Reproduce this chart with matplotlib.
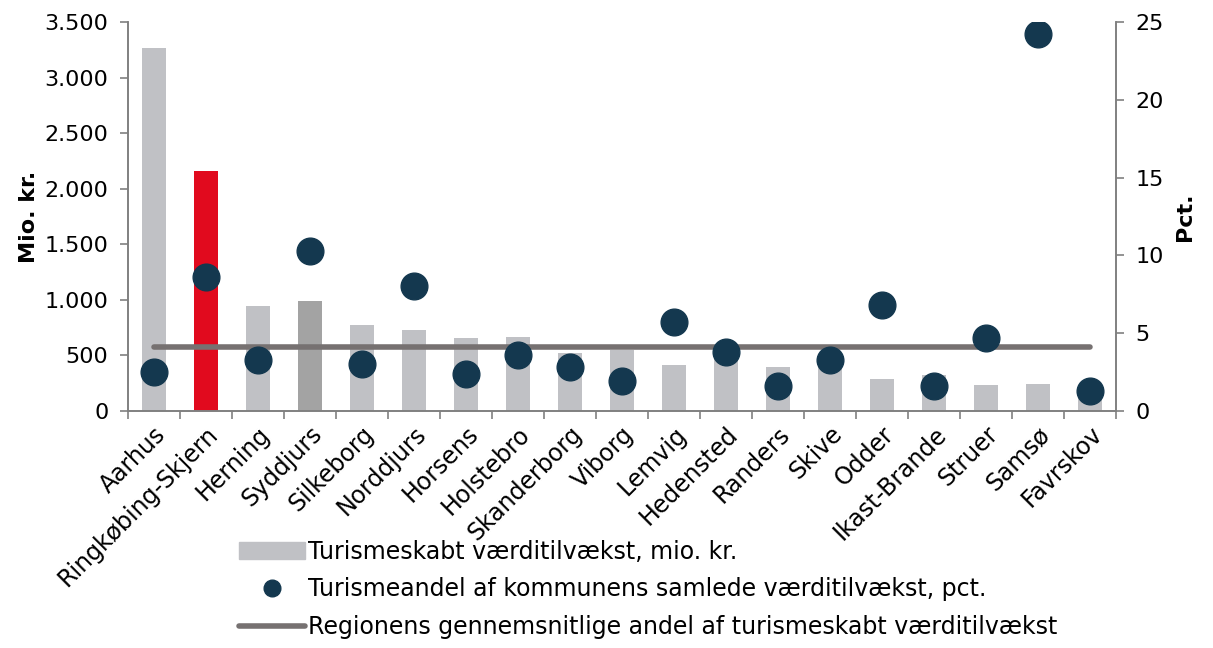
import numpy as np
import matplotlib.pyplot as plt
from matplotlib.ticker import FuncFormatter, FixedLocator
from matplotlib.lines import Line2D
from matplotlib.patches import Patch

plt.rcParams['font.family'] = ['DejaVu Sans']

kommuner = ["Aarhus", "Ringkøbing-Skjern", "Herning", "Syddjurs", "Silkeborg", "Norddjurs",
            "Horsens", "Holstebro", "Skanderborg", "Viborg", "Lemvig", "Hedensted", "Randers",
            "Skive", "Odder", "Ikast-Brande", "Struer", "Samsø", "Favrskov"]
vaerditilvaekst = [3270, 2160, 945, 990, 774, 729, 657, 666, 522, 549, 414, 500, 396,
                   480, 288, 324, 234, 243, 200]
andel = [2.5, 8.6, 3.3, 10.3, 3.0, 8.0, 2.4, 3.6, 2.8, 1.9, 5.7, 3.8, 1.6,
         3.3, 6.8, 1.6, 4.7, 24.2, 1.3]
region_snit = 4.1

bar_colors = ["#c0c1c5"] * len(kommuner)
bar_colors[1] = "#e10a1e"
bar_colors[3] = "#a3a3a3"

fig = plt.figure(figsize=(12.13, 6.48), dpi=100)
ax = fig.add_axes([0.1055, 0.366, 0.8145, 0.6])
ax2 = ax.twinx()

x = np.arange(len(kommuner))
ax.bar(x, vaerditilvaekst, width=0.45, color=bar_colors, zorder=1)
ax2.plot([x[0], x[-1]], [region_snit] * 2, color="#767171", lw=4, solid_capstyle="round", zorder=2)
ax2.scatter(x, andel, s=370, color="#14384f", zorder=3)

ax.set_xlim(-0.5, len(kommuner) - 0.5)
ax.set_ylim(0, 3500)
ax2.set_ylim(0, 25)
ax.set_yticks(np.arange(0, 3501, 500))
ax.yaxis.set_major_formatter(FuncFormatter(lambda v, p: f"{int(v):,}".replace(",", ".")))
ax2.set_yticks(np.arange(0, 26, 5))

fs = 16
ax.set_xticks(x)
ax.set_xticklabels(kommuner, rotation=45, ha="right", rotation_mode="anchor", fontsize=17)
ax.tick_params(axis="x", length=0, pad=8)
ax.xaxis.set_minor_locator(FixedLocator(np.arange(-0.5, len(kommuner), 1)))
ax.tick_params(axis="x", which="minor", length=6, color="#808080", width=1.2)
ax.tick_params(axis="y", labelsize=fs, length=6, color="#808080", width=1.2, pad=8)
ax2.tick_params(axis="y", labelsize=fs, length=6, color="#808080", width=1.2, pad=8)

for a in (ax, ax2):
    a.spines["top"].set_visible(False)
    for s in ("left", "right", "bottom"):
        a.spines[s].set_color("#808080")
        a.spines[s].set_linewidth(1.2)

ax.set_ylabel("Mio. kr.", fontsize=fs, fontweight="bold", labelpad=4)
ax2.set_ylabel("Pct.", fontsize=fs, fontweight="bold", labelpad=8)

handles = [Patch(color="#c0c1c5"),
           Line2D([], [], marker="o", ls="", color="#14384f", markersize=12),
           Line2D([], [], color="#767171", lw=4, solid_capstyle="round")]
labels = ["Turismeskabt værditilvækst, mio. kr.",
          "Turismeandel af kommunens samlede værditilvækst, pct.",
          "Regionens gennemsnitlige andel af turismeskabt værditilvækst"]
fig.legend(handles, labels, loc="lower left", bbox_to_anchor=(0.185, -0.008),
           frameon=False, fontsize=17, handlelength=2.8, handletextpad=0.15, labelspacing=0.58,
           borderaxespad=0.2)

fig.savefig("out.png", dpi=100)
